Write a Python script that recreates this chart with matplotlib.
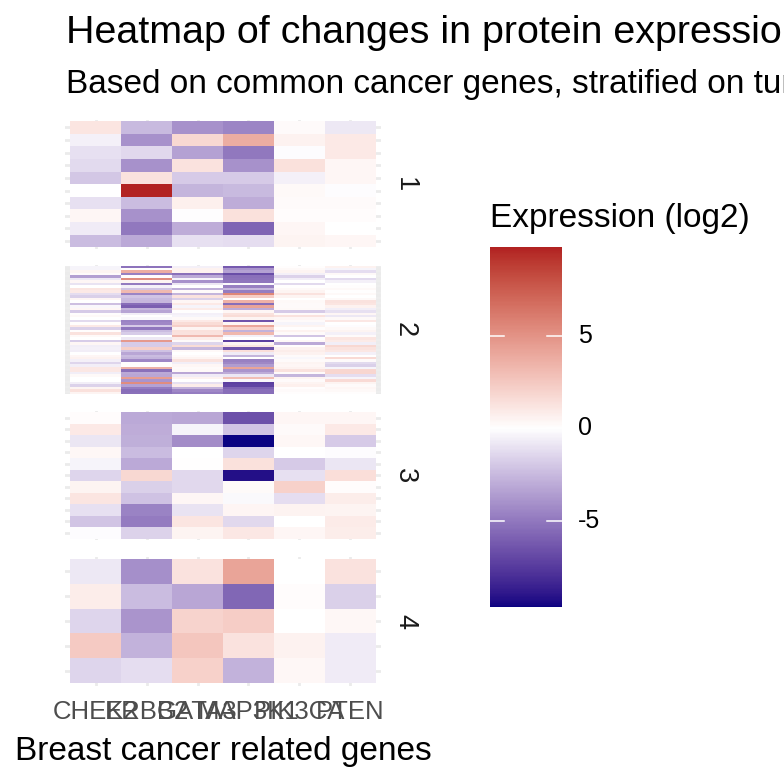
import numpy as np
import matplotlib
matplotlib.use('Agg')
import matplotlib.pyplot as plt
from matplotlib.colors import ListedColormap, Normalize, to_rgb

plt.rcParams['font.family'] = ['Liberation Sans', 'DejaVu Sans']

## data (log2 expression), rows top to bottom, columns = genes
genes = ['CHEK2', 'ERBB2', 'GATA3', 'MAP3K1', 'PIK3CA', 'PTEN']
clusters = ['1', '2', '3', '4']

cluster1 = [
    [1.2, -2.5, -4.0, -4.5, 0.2, -0.8],
    [-0.5, -4.0, 1.8, 3.8, 0.6, 1.0],
    [-1.1, -1.4, -3.4, -5.0, -0.1, 1.0],
    [-1.3, -4.0, 1.3, -4.0, 1.4, 0.4],
    [-2.0, 1.3, -1.9, -1.9, -0.5, 0.4],
    [0.0, 9.75, -2.7, -2.5, 0.3, -0.1],
    [-1.1, -2.4, 0.7, -3.0, 0.2, 0.2],
    [0.4, -4.0, -0.05, 1.4, 0.15, 0.15],
    [-0.7, -5.0, -3.0, -5.8, 0.4, 0.02],
    [-2.4, -3.1, -1.1, -1.2, 0.5, 0.4],
]

cluster2 = [
    [-0.4, -5.2, -0.5, -6.2, 0.1, 0.6],
    [-0.4, 0.1, 0.6, -3.9, 0.3, -0.4],
    [0.5, 3.8, 0.6, -3.4, 0.5, -1.2],
    [0.2, -4.7, -5.3, -6.7, -0.5, 0.3],
    [-3.5, 0.1, -3.1, -5.3, -1.6, 0.0],
    [-0.8, 5.3, -0.4, -5.2, -0.6, -1.3],
    [0.4, 0.5, -4.0, -5.1, 0.0, -0.5],
    [-1.0, -4.9, -0.8, -0.2, -1.3, 0.0],
    [0.0, -0.5, 0.0, -4.7, 0.05, 0.1],
    [1.2, -2.1, -2.9, -2.6, 0.3, 0.3],
    [1.0, 3.2, 0.2, -4.8, 0.5, 0.05],
    [-1.2, -4.5, -2.7, 5.6, 1.3, 0.3],
    [-1.7, -2.1, 1.3, 2.3, 0.5, 0.0],
    [0.4, -2.5, -1.7, 0.1, 0.0, 0.3],
    [0.0, -2.6, 0.4, 3.6, 0.3, 1.3],
    [-2.3, -5.4, 1.0, -5.4, 0.2, 1.2],
    [-0.3, -6.0, -0.4, 4.2, 0.2, 0.6],
    [0.4, -2.7, 0.9, -3.0, 0.3, -0.6],
    [-1.9, -3.3, 0.05, 0.4, -1.9, -1.1],
    [0.1, -0.6, -0.5, 1.3, 0.2, 0.4],
    [0.3, 0.05, -0.4, 1.6, 1.3, -0.8],
    [0.0, -0.3, 0.3, 0.5, 0.4, 0.3],
    [-1.3, -4.6, 1.0, -6.5, 0.2, 1.1],
    [0.1, -4.4, 1.6, 0.4, -0.4, 0.0],
    [1.0, -1.9, 2.2, 4.1, 0.5, -0.1],
    [-1.7, -5.1, 0.5, 2.1, 0.1, 0.3],
    [0.1, -2.4, 1.4, -2.8, 0.6, 0.5],
    [1.3, -1.8, 1.3, 3.3, 0.2, -0.5],
    [0.3, 0.0, 3.2, -0.5, -2.1, 0.2],
    [0.0, -0.8, 0.8, 0.0, 0.0, 1.2],
    [-1.8, 4.7, 0.2, -7.3, 0.3, 0.9],
    [0.4, -1.8, -1.5, 0.5, -3.1, -0.6],
    [-0.6, -1.8, 1.6, 1.2, 0.1, 1.8],
    [-0.5, 2.2, -2.6, -6.5, 0.6, 1.3],
    [-0.6, -2.2, 0.3, 1.5, 0.8, 1.1],
    [0.0, -3.2, 0.0, -0.7, 0.6, -0.5],
    [0.4, -2.4, 0.2, -2.7, 0.2, 0.0],
    [0.6, -2.7, 0.5, 0.0, -0.3, 1.7],
    [-0.5, -4.4, 1.3, -4.7, 0.2, 0.2],
    [-1.5, 0.1, -0.6, -4.4, 0.5, -1.3],
    [-0.6, 0.1, 0.4, -3.6, 0.4, -1.7],
    [1.1, 3.6, 0.2, 4.2, 0.6, -0.4],
    [1.1, -5.3, 0.3, -3.9, 1.3, 1.9],
    [-0.6, -3.1, -3.2, -3.0, 0.2, 1.9],
    [0.3, -3.2, -0.7, -0.8, -2.7, -1.2],
    [0.0, 4.5, 0.6, 3.0, 0.5, -0.4],
    [0.0, -3.9, 0.0, -0.3, 0.2, 1.7],
    [-0.6, 5.3, -1.1, -7.3, 0.5, 0.5],
    [-1.6, -3.4, 0.8, -7.1, 0.7, 0.2],
    [0.5, -4.8, -2.8, -5.8, 0.1, 0.4],
    [1.4, -5.4, -4.4, -5.4, 0.2, 0.3],
    [0.5, -5.3, -4.8, -5.4, 0.1, 0.1],
]

cluster3 = [
    [0.15, -3.1, -3.2, -6.6, 0.4, 0.4],
    [1.0, -3.0, -0.4, -2.1, 0.2, 1.0],
    [-0.9, -2.9, -4.2, -9.6, 0.35, -1.9],
    [0.35, -2.4, 0.0, -1.5, 0.03, -0.1],
    [-0.4, -3.1, 0.05, 1.4, -1.9, -0.9],
    [-1.5, 1.8, -1.4, -9.2, -1.1, 1.5],
    [0.5, -1.7, -1.4, 0.25, 2.1, 0.15],
    [1.2, -2.2, 0.4, -0.2, -1.2, 0.8],
    [-1.1, -4.6, -1.0, 0.45, 0.55, 0.5],
    [-2.1, -4.9, 1.2, -1.4, 0.02, 0.9],
    [-0.1, -1.6, 0.5, 1.1, 0.4, 0.8],
]

cluster4 = [
    [-0.8, -4.1, 1.3, 4.2, 0.0, 1.3],
    [0.8, -2.4, -3.2, -5.7, 0.15, -1.7],
    [-1.5, -3.9, 2.0, 2.3, 0.02, 0.35],
    [2.4, -2.8, 2.6, 1.3, 0.6, -0.7],
    [-1.5, -1.2, 2.1, -2.8, 0.35, -0.7],
]

panels = [cluster1, cluster2, cluster3, cluster4]

## colour scale: navy - white - firebrick, interpolated in Lab (like gradient2)
def srgb_to_lab(rgb):
    rgb = np.asarray(rgb, dtype=float)
    lin = np.where(rgb <= 0.04045, rgb / 12.92, ((rgb + 0.055) / 1.055) ** 2.4)
    M = np.array([[0.4124, 0.3576, 0.1805],
                  [0.2126, 0.7152, 0.0722],
                  [0.0193, 0.1192, 0.9505]])
    xyz = lin @ M.T / np.array([0.95047, 1.0, 1.08883])
    d = 6 / 29
    f = np.where(xyz > d**3, np.cbrt(xyz), xyz / (3 * d**2) + 4 / 29)
    return np.stack([116 * f[..., 1] - 16,
                     500 * (f[..., 0] - f[..., 1]),
                     200 * (f[..., 1] - f[..., 2])], axis=-1)

def lab_to_srgb(lab):
    lab = np.asarray(lab, dtype=float)
    fy = (lab[..., 0] + 16) / 116
    fx = fy + lab[..., 1] / 500
    fz = fy - lab[..., 2] / 200
    d = 6 / 29
    f = np.stack([fx, fy, fz], axis=-1)
    xyz = np.where(f > d, f**3, 3 * d**2 * (f - 4 / 29)) * np.array([0.95047, 1.0, 1.08883])
    Minv = np.array([[3.2406, -1.5372, -0.4986],
                     [-0.9689, 1.8758, 0.0415],
                     [0.0557, -0.2040, 1.0570]])
    lin = xyz @ Minv.T
    lin = np.clip(lin, 0, 1)
    rgb = np.where(lin <= 0.0031308, 12.92 * lin, 1.055 * lin ** (1 / 2.4) - 0.055)
    return np.clip(rgb, 0, 1)

lab_lo = srgb_to_lab(to_rgb('navy'))
lab_mid = srgb_to_lab(to_rgb('white'))
lab_hi = srgb_to_lab(to_rgb('firebrick'))
t = np.linspace(0, 1, 512)[:, None]
labs = np.where(t < 0.5,
                lab_lo + (lab_mid - lab_lo) * (t / 0.5),
                lab_mid + (lab_hi - lab_mid) * ((t - 0.5) / 0.5))
cmap = ListedColormap(lab_to_srgb(labs))

allv = np.concatenate([np.ravel(p) for p in panels])
vmin, vmax = allv.min(), allv.max()
lim = max(abs(vmin), abs(vmax))
norm = Normalize(-lim, lim)

## layout in pixels
W = H = 784
fig = plt.figure(figsize=(7.84, 7.84), dpi=100)

def px_axes(x, y, w, h):
    return fig.add_axes([x / W, 1 - (y + h) / H, w / W, h / H])

grid_col = '#EBEBEB'
left, pw, ph = 65, 316, 129
tops = [119.7, 265.3, 410.9, 556.5]

for k, (vals, top) in enumerate(zip(panels, tops)):
    vals = np.array(vals)
    n = vals.shape[0]
    ax = px_axes(left, top, pw, ph)
    ax.pcolormesh(np.arange(7) - 0.5, np.arange(n + 1) - 0.5, vals,
                  cmap=cmap, norm=norm, shading='flat', zorder=1)
    ax.set_xlim(-0.6, 5.6)
    ax.set_ylim(n - 0.4, -0.6)
    ax.set_xticks(range(6))
    ax.set_yticks(range(n))
    ax.grid(color=grid_col, lw=2.0)
    ax.set_axisbelow(True)
    ax.tick_params(length=0, labelleft=False)
    for s in ax.spines.values():
        s.set_visible(False)
    if k == 3:
        ax.set_xticklabels(genes, fontsize=18.5, color='#4D4D4D')
        ax.tick_params(axis='x', pad=10.5)
    else:
        ax.tick_params(labelbottom=False)
    fig.text(405 / W, 1 - (top + ph / 2) / H, clusters[k], rotation=270,
             ha='center', va='center', fontsize=19.5, color='#1A1A1A')

## colour bar
cb_x, cb_y, cb_w, cb_h = 490, 247.3, 71.5, 359.4
cax = px_axes(cb_x, cb_y, cb_w, cb_h)
grad = np.linspace(vmin, vmax, 300)[:, None]
cax.imshow(grad, cmap=cmap, norm=norm, aspect='auto', origin='lower',
           extent=(0, 1, vmin, vmax), interpolation='nearest')
cax.set_xlim(0, 1)
cax.set_ylim(vmin, vmax)
cax.axis('off')
for v in [-5, 0, 5]:
    cax.plot([0, 0.2], [v, v], color='white', lw=1.1)
    cax.plot([0.8, 1], [v, v], color='white', lw=1.1)
    yp = cb_y + cb_h * (vmax - v) / (vmax - vmin)
    fig.text(578 / W, 1 - yp / H, str(v), ha='left', va='center',
             fontsize=18, color='black')

fig.text(490 / W, 1 - 227 / H, 'Expression (log2)', ha='left', va='baseline',
         fontsize=24)

## titles
fig.text(66 / W, 1 - 43.3 / H, 'Heatmap of changes in protein expression levels',
         ha='left', va='baseline', fontsize=28.4)
fig.text(66 / W, 1 - 93.3 / H,
         'Based on common cancer genes, stratified on tumour clusters',
         ha='left', va='baseline', fontsize=24)
fig.text(223 / W, 1 - 760 / H, 'Breast cancer related genes',
         ha='center', va='baseline', fontsize=24)

fig.savefig('out.png', dpi=100)
